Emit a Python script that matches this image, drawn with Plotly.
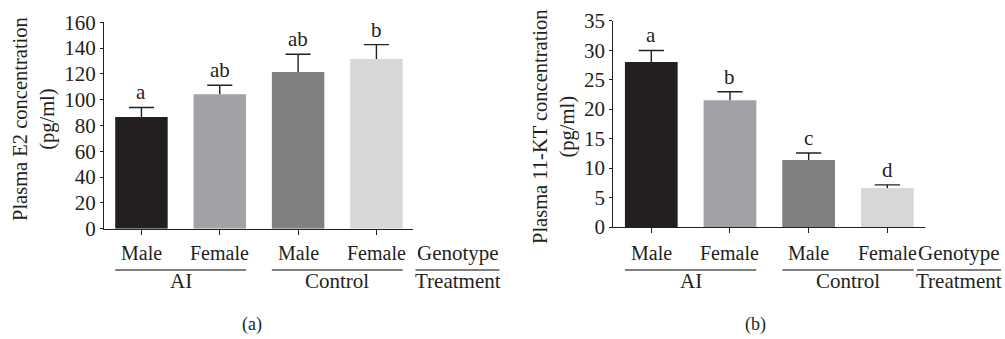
import plotly.graph_objects as go

# ---- data ----
genotypes = ["Male", "Female", "Male", "Female"]
treatments = ["AI", "Control"]
letters_e2 = ["a", "ab", "ab", "b"]
e2_values = [86.5, 104.2, 121.5, 131.5]
e2_errors = [7.5, 7.0, 13.7, 11.2]
letters_kt = ["a", "b", "c", "d"]
kt_values = [28.0, 21.5, 11.35, 6.6]
kt_errors = [1.95, 1.45, 1.2, 0.55]
e2_ticks = [0, 20, 40, 60, 80, 100, 120, 140, 160]
kt_ticks = [0, 5, 10, 15, 20, 25, 30, 35]
bar_colors = ["#231f20", "#a1a2a5", "#7f807f", "#d7d7d7"]

INK = "#231f20"
FONT = "Liberation Serif"
FS = 21
W, H = 1005, 339
BAR_W = 0.67
CAP = 0.16  # half-width of error caps, in category units


def py(pix):
    return 1 - pix / H


fig = go.Figure()

panels = [
    dict(xa="x", ya="y", vals=e2_values, errs=e2_errors, letters=letters_e2,
         title="Plasma E2 concentration<br>(pg/ml)", title_xy=(34, 119),
         gen_px=457.5, label="(a)", label_x=252),
    dict(xa="x2", ya="y2", vals=kt_values, errs=kt_errors, letters=letters_kt,
         title="Plasma 11-KT concentration<br>(pg/ml)", title_xy=(554, 127),
         gen_px=959, label="(b)", label_x=755),
]

xs = list(range(len(genotypes)))
annotations = []
shapes = []


def txt(**kw):
    base = dict(showarrow=False, xanchor="center", yanchor="middle",
                font=dict(family=FONT, size=FS, color=INK))
    base.update(kw)
    return base


for p in panels:
    fig.add_trace(go.Bar(
        x=xs, y=p["vals"], width=BAR_W, marker=dict(color=bar_colors, line=dict(width=0)),
        xaxis=p["xa"], yaxis=p["ya"], showlegend=False, hoverinfo="skip",
    ))
    # upward-only error bars built from the data
    ex, ey = [], []
    for i, (v, e) in enumerate(zip(p["vals"], p["errs"])):
        ex += [i, i, None, i - CAP, i + CAP, None]
        ey += [v, v + e, None, v + e, v + e, None]
    fig.add_trace(go.Scatter(x=ex, y=ey, mode="lines", line=dict(color=INK, width=1.4),
                             xaxis=p["xa"], yaxis=p["ya"], showlegend=False,
                             hoverinfo="skip", cliponaxis=False))
    # significance letters
    for i, (v, e, t) in enumerate(zip(p["vals"], p["errs"], p["letters"])):
        annotations.append(txt(x=i, y=v + e, xref=p["xa"], yref=p["ya"], text=t,
                               yanchor="bottom", yshift=1))
    # genotype labels
    for i, g in enumerate(genotypes):
        annotations.append(txt(x=i, y=py(253), xref=p["xa"], yref="paper", text=g,
                               font=dict(family=FONT, size=20, color=INK)))
    # treatment labels + underline
    for k, t in enumerate(treatments):
        a0, a1 = 2 * k, 2 * k + 1
        annotations.append(txt(x=(a0 + a1) / 2, y=py(281), xref=p["xa"], yref="paper",
                               text=t))
        shapes.append(dict(type="line", xref=p["xa"], yref="paper",
                           x0=a0 - BAR_W / 2, x1=a1 + BAR_W / 2, y0=py(270), y1=py(270),
                           line=dict(color="#555555", width=1.6)))
    gx = p["gen_px"] / W
    annotations.append(txt(x=gx, y=py(253), xref="paper", yref="paper", text="Genotype"))
    annotations.append(txt(x=gx, y=py(281), xref="paper", yref="paper", text="Treatment"))
    shapes.append(dict(type="line", xref="paper", yref="paper",
                       x0=gx - 42 / W, x1=gx + 42 / W, y0=py(270), y1=py(270),
                       line=dict(color="#555555", width=1.6)))
    # y title
    tx, ty = p["title_xy"]
    annotations.append(txt(x=tx / W, y=py(ty), xref="paper", yref="paper",
                           text=p["title"], textangle=-90,
                           font=dict(family=FONT, size=20.5, color=INK)))
    # panel label
    annotations.append(txt(x=p["label_x"] / W, y=py(324), xref="paper", yref="paper",
                           text=p["label"], font=dict(family=FONT, size=18, color=INK)))

axis_common = dict(showline=True, linecolor=INK, linewidth=1.3, showgrid=False,
                   zeroline=False, ticks="outside", tickcolor=INK, tickwidth=1.3,
                   tickfont=dict(family=FONT, size=FS, color=INK))

fig.update_layout(
    width=W, height=H, margin=dict(l=0, r=0, t=0, b=0, autoexpand=False),
    paper_bgcolor="white", plot_bgcolor="white",
    font=dict(family=FONT, size=FS, color=INK),
    annotations=annotations, shapes=shapes,
    xaxis=dict(domain=[104 / W, 413 / W], range=[-0.478, 3.467], tickvals=xs,
               showticklabels=False, ticklen=5, anchor="y", **axis_common),
    yaxis=dict(domain=[py(228.7), py(22.3)], range=[0, 160], tickvals=e2_ticks,
               ticklen=3, anchor="x", **axis_common),
    xaxis2=dict(domain=[613.3 / W, 925 / W], range=[-0.483, 3.479], tickvals=xs,
                showticklabels=False, ticklen=5, anchor="y2", **axis_common),
    yaxis2=dict(domain=[py(227), py(20.7)], range=[0, 35], tickvals=kt_ticks,
                ticklen=3, anchor="x2", **axis_common),
)

fig.write_html("out.html", config={"displayModeBar": False},
               post_script="document.body.style.margin='0px';")
